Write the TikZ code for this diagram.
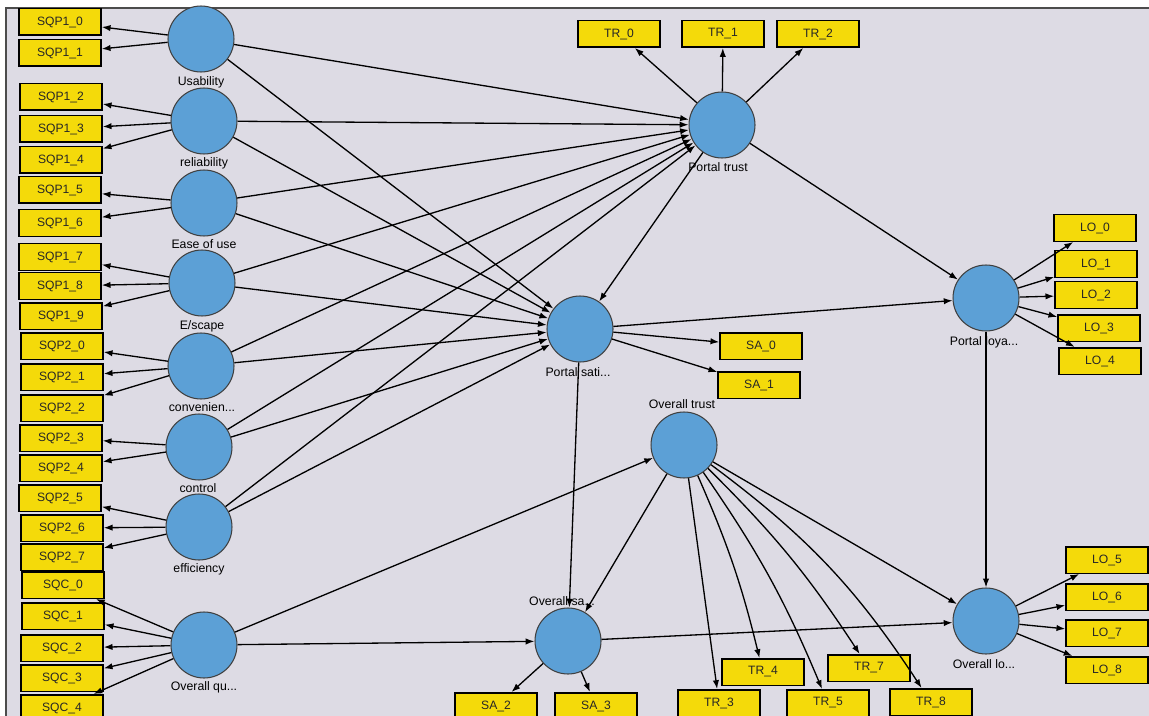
\documentclass[tikz,border=0pt]{standalone}
\usepackage{fontspec}
\setmainfont{Liberation Sans}
\usetikzlibrary{arrows.meta}
\definecolor{indyel}{RGB}{244,218,10}
\definecolor{latblue}{RGB}{92,160,214}
\definecolor{canvas}{RGB}{221,219,228}

\begin{document}
\begin{tikzpicture}[
  x=0.02cm, y=-0.02cm,
  font=\fontsize{6.9}{7}\selectfont,
  >={Latex[length=5pt,width=3.6pt]},
  ind/.style={draw, line width=0.85pt, fill=indyel, text=black!85, minimum width=1.64cm, minimum height=0.53cm, inner sep=0pt},
  lat/.style={circle, draw=black!75, line width=0.6pt, fill=latblue, minimum size=1.32cm, inner sep=0pt},
  lbl/.style={font=\fontsize{7}{8}\selectfont, inner sep=0pt},
  arr/.style={->, line width=0.75pt}
]
\useasboundingbox (0,0) rectangle (1149,716);
\fill[white] (0,0) rectangle (1149,716);
\fill[canvas] (6,8) rectangle (1149,716);
\draw[black!70, line width=1pt] (6,716) -- (6,8) -- (1149,8);

% latent variables
\node[lat] (usab) at (201,39) {};
\node[lat] (reli) at (204,121) {};
\node[lat] (ease) at (204,203) {};
\node[lat] (esc) at (202,283) {};
\node[lat] (conv) at (201,366) {};
\node[lat] (ctrl) at (199,447) {};
\node[lat] (effi) at (199,527) {};
\node[lat] (oqu) at (204,645) {};
\node[lat] (ptru) at (722,125) {};
\node[lat] (psat) at (580,329) {};
\node[lat] (otru) at (684,445) {};
\node[lat] (osat) at (568,641) {};
\node[lat] (ploy) at (986,298) {};
\node[lat] (oloy) at (986,621) {};

\node[lbl] (usabt) at (201,82) {Usability};
\node[lbl] (relit) at (204,163) {reliability};
\node[lbl] (easet) at (204,244) {Ease of use};
\node[lbl] (esct) at (202,326) {E/scape};
\node[lbl] (convt) at (202,407) {convenien...};
\node[lbl] (ctrlt) at (198,488) {control};
\node[lbl] (effit) at (199,569) {efficiency};
\node[lbl] (oqut) at (204,687) {Overall qu...};
\node[lbl] (ptrut) at (718,167) {Portal trust};
\node[lbl] (psatt) at (578,372) {Portal sati...};
\node[lbl] (otrut) at (682,404) {Overall trust};
\node[lbl] (osatt) at (562,601) {Overall sa...};
\node[lbl] (ployt) at (984,342) {Portal loya...};
\node[lbl] (oloyt) at (984,664) {Overall lo...};

% indicators
\node[ind] (sqp10) at (60,22) {SQP1\_0};
\node[ind] (sqp11) at (60,53) {SQP1\_1};
\node[ind] (sqp12) at (61,97) {SQP1\_2};
\node[ind] (sqp13) at (61,129) {SQP1\_3};
\node[ind] (sqp14) at (61,160) {SQP1\_4};
\node[ind] (sqp15) at (60,190) {SQP1\_5};
\node[ind] (sqp16) at (60,223) {SQP1\_6};
\node[ind] (sqp17) at (60,257) {SQP1\_7};
\node[ind] (sqp18) at (60,286) {SQP1\_8};
\node[ind] (sqp19) at (61,316) {SQP1\_9};
\node[ind] (sqp20) at (62,346) {SQP2\_0};
\node[ind] (sqp21) at (62,377) {SQP2\_1};
\node[ind] (sqp22) at (62,408) {SQP2\_2};
\node[ind] (sqp23) at (61,438) {SQP2\_3};
\node[ind] (sqp24) at (61,468) {SQP2\_4};
\node[ind] (sqp25) at (60,498) {SQP2\_5};
\node[ind] (sqp26) at (62,528) {SQP2\_6};
\node[ind] (sqp27) at (62,557) {SQP2\_7};
\node[ind] (sqc0) at (63,585) {SQC\_0};
\node[ind] (sqc1) at (63,616) {SQC\_1};
\node[ind] (sqc2) at (62,648) {SQC\_2};
\node[ind] (sqc3) at (62,678) {SQC\_3};
\node[ind] (sqc4) at (62,708) {SQC\_4};

\node[ind] (tr0) at (619,34) {TR\_0};
\node[ind] (tr1) at (723,34) {TR\_1};
\node[ind] (tr2) at (818,34) {TR\_2};
\node[ind] (sa0) at (761,346) {SA\_0};
\node[ind] (sa1) at (759,385) {SA\_1};
\node[ind] (sa2) at (496,706) {SA\_2};
\node[ind] (sa3) at (596,706) {SA\_3};
\node[ind] (tr3) at (719,703) {TR\_3};
\node[ind] (tr4) at (763,672) {TR\_4};
\node[ind] (tr5) at (828,703) {TR\_5};
\node[ind] (tr7) at (869,668) {TR\_7};
\node[ind] (tr8) at (931,702) {TR\_8};
\node[ind] (lo0) at (1095,228) {LO\_0};
\node[ind] (lo1) at (1096,264) {LO\_1};
\node[ind] (lo2) at (1096,295) {LO\_2};
\node[ind] (lo3) at (1099,328) {LO\_3};
\node[ind] (lo4) at (1100,361) {LO\_4};
\node[ind] (lo5) at (1107,560) {LO\_5};
\node[ind] (lo6) at (1107,597) {LO\_6};
\node[ind] (lo7) at (1107,633) {LO\_7};
\node[ind] (lo8) at (1107,670) {LO\_8};

% measurement arrows
\draw[arr] (usab) -- (sqp10);
\draw[arr] (usab) -- (sqp11);
\draw[arr] (reli) -- (sqp12);
\draw[arr] (reli) -- (sqp13);
\draw[arr] (reli) -- (sqp14);
\draw[arr] (ease) -- (sqp15);
\draw[arr] (ease) -- (sqp16);
\draw[arr] (esc) -- (sqp17);
\draw[arr] (esc) -- (sqp18);
\draw[arr] (esc) -- (sqp19);
\draw[arr] (conv) -- (sqp20);
\draw[arr] (conv) -- (sqp21);
\draw[arr] (conv) -- (sqp22);
\draw[arr] (ctrl) -- (sqp23);
\draw[arr] (ctrl) -- (sqp24);
\draw[arr] (effi) -- (sqp25);
\draw[arr] (effi) -- (sqp26);
\draw[arr] (effi) -- (sqp27);
\draw[arr] (oqu) -- (sqc0);
\draw[arr] (oqu) -- (sqc1);
\draw[arr] (oqu) -- (sqc2);
\draw[arr] (oqu) -- (sqc3);
\draw[arr] (oqu) -- (sqc4);
\draw[arr] (ptru) -- (tr0);
\draw[arr] (ptru) -- (tr1);
\draw[arr] (ptru) -- (tr2);
\draw[arr] (psat) -- (sa0);
\draw[arr] (psat) -- (sa1);
\draw[arr] (osat) -- (sa2);
\draw[arr] (osat) -- (sa3);
\draw[arr] (otru) -- (tr3);
\draw[arr] (otru) to[bend left=5] (tr4);
\draw[arr] (otru) to[bend left=6] (tr5);
\draw[arr] (otru) to[bend left=6] (tr7);
\draw[arr] (otru) to[bend left=10] (tr8);
\draw[arr] (ploy) -- (lo0);
\draw[arr] (ploy) -- (lo1);
\draw[arr] (ploy) -- (lo2);
\draw[arr] (ploy) -- (lo3);
\draw[arr] (ploy) -- (lo4);
\draw[arr] (oloy) -- (lo5);
\draw[arr] (oloy) -- (lo6);
\draw[arr] (oloy) -- (lo7);
\draw[arr] (oloy) -- (lo8);

% structural paths
\draw[arr] (usab) -- (ptru);
\draw[arr] (reli) -- (ptru);
\draw[arr] (ease) -- (ptru);
\draw[arr] (esc) -- (ptru);
\draw[arr] (conv) -- (ptru);
\draw[arr] (ctrl) -- (ptru);
\draw[arr] (effi) -- (ptru);
\draw[arr] (usab) -- (psat);
\draw[arr] (reli) -- (psat);
\draw[arr] (ease) -- (psat);
\draw[arr] (esc) -- (psat);
\draw[arr] (conv) -- (psat);
\draw[arr] (ctrl) -- (psat);
\draw[arr] (effi) -- (psat);
\draw[arr] (ptru) -- (psat);
\draw[arr] (ptru) -- (ploy);
\draw[arr] (psat) -- (ploy);
\draw[arr] (psat) -- (osat);
\draw[arr] (oqu) -- (otru);
\draw[arr] (oqu) -- (osat);
\draw[arr] (otru) -- (osat);
\draw[arr] (otru) -- (oloy);
\draw[arr] (osat) -- (oloy);
\draw[arr] (ploy) -- (oloy);
\end{tikzpicture}
\end{document}
